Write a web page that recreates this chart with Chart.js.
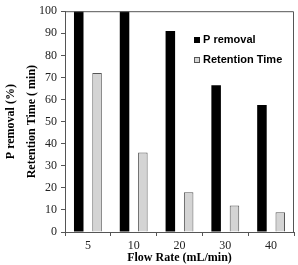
<!DOCTYPE html>
<html>
<head>
<meta charset="utf-8">
<script src="https://cdn.jsdelivr.net/npm/chart.js@4/dist/chart.umd.min.js"></script>
<style>
  html, body { margin: 0; padding: 0; background: #fff; }
  #wrap { width: 298px; height: 265px; position: relative; }
</style>
</head>
<body>
<div id="wrap"><canvas id="chart"></canvas></div>
<script>
// Data
const flowRates = ['5', '10', '20', '30', '40'];
const pRemoval = [100, 100, 91, 66.5, 57.5];
const retentionTime = [72, 36, 18, 12, 9];
const yTicks = [0, 10, 20, 30, 40, 50, 60, 70, 80, 90, 100];

const serif = '"Liberation Serif", "Times New Roman", serif';
const sans = '"Liberation Sans", Arial, sans-serif';

// box around the plot + legend inside it
const framePlugin = {
    id: 'frame',
    afterDraw(chart) {
        const ctx = chart.ctx;
        const a = chart.chartArea;
        ctx.save();
        ctx.strokeStyle = '#555';
        ctx.lineWidth = 1;
        ctx.beginPath();
        ctx.moveTo(a.left, a.top + 0.5);
        ctx.lineTo(a.right - 0.5, a.top + 0.5);
        ctx.lineTo(a.right - 0.5, a.bottom);
        ctx.stroke();

        // legend
        const x = 194, rows = [40, 60];
        ctx.font = 'bold 11px ' + sans;
        ctx.textBaseline = 'middle';
        chart.data.datasets.forEach((ds, i) => {
            const y = rows[i];
            ctx.fillStyle = ds.backgroundColor;
            ctx.fillRect(x, y - 3, 6, 6);
            if (ds.borderWidth) {
                ctx.strokeStyle = ds.borderColor;
                ctx.strokeRect(x + 0.5, y - 2.5, 5, 5);
            }
            ctx.fillStyle = '#000';
            ctx.fillText(ds.label, x + 9, y);
        });
        ctx.restore();
    }
};

new Chart(document.getElementById('chart'), {
    type: 'bar',
    data: {
        labels: flowRates,
        datasets: [{
            label: 'P removal',
            data: pRemoval,
            backgroundColor: '#000',
            borderWidth: 0
        }, {
            label: 'Retention Time',
            data: retentionTime,
            backgroundColor: '#d4d4d4',
            borderColor: '#555',
            borderWidth: 1
        }]
    },
    options: {
        responsive: true,
        maintainAspectRatio: false,
        animation: false,
        layout: { padding: { top: 7, right: 4, left: 0, bottom: 0 } },
        datasets: {
            bar: { categoryPercentage: 0.8, barPercentage: 0.52 }
        },
        plugins: {
            legend: { display: false },
            tooltip: { enabled: false }
        },
        scales: {
            x: {
                offset: true,
                grid: { offset: true, drawOnChartArea: false, tickLength: 4, color: '#555' },
                border: { color: '#555' },
                ticks: { color: '#222', font: { family: serif, size: 12 }, padding: 3 },
                title: {
                    display: true,
                    text: 'Flow Rate (mL/min)',
                    color: '#000',
                    font: { family: serif, size: 12, weight: 'bold' },
                    padding: { top: 0, bottom: 0 }
                },
                afterFit(scale) { scale.height = 33; }
            },
            y: {
                min: 0,
                max: 100,
                afterBuildTicks(scale) { scale.ticks = yTicks.map(v => ({ value: v })); },
                grid: { drawOnChartArea: false, tickLength: 4, color: '#555' },
                border: { color: '#555' },
                ticks: { color: '#222', font: { family: serif, size: 12 }, padding: 4 },
                title: {
                    display: true,
                    text: ['P removal (%)', 'Retention Time ( min)'],
                    color: '#000',
                    font: { family: serif, size: 12, weight: 'bold', lineHeight: 1.8 },
                    padding: { top: 0, bottom: 2 }
                },
                afterFit(scale) { scale.width = 65; }
            }
        }
    },
    plugins: [framePlugin]
});
</script>
</body>
</html>
